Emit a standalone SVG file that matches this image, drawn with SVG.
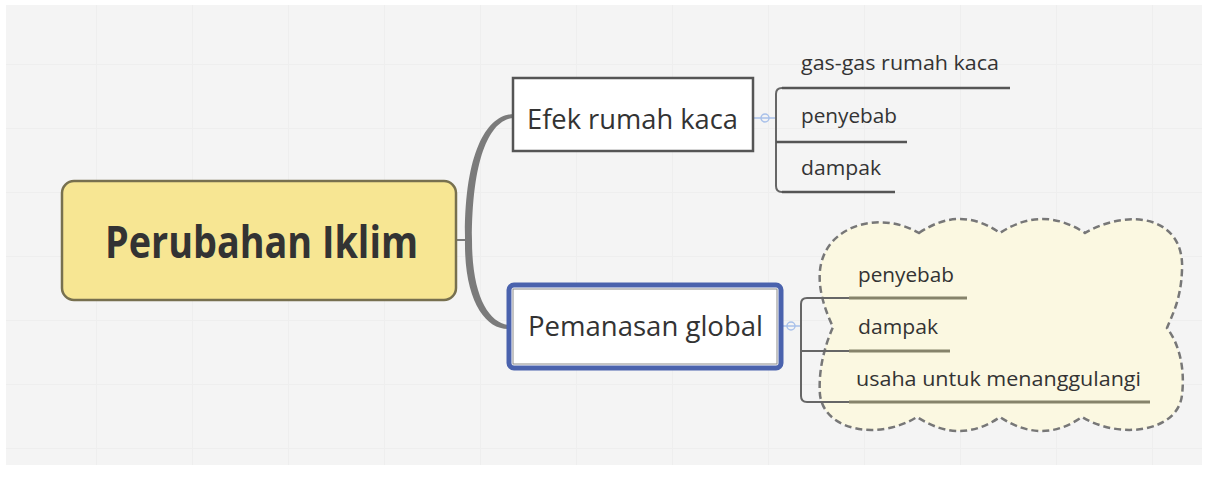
<svg xmlns="http://www.w3.org/2000/svg" width="1206" height="490" viewBox="0 0 1206 490">
<defs>
<pattern id="grid" width="96" height="64" patternUnits="userSpaceOnUse">
<rect width="96" height="64" fill="#f4f4f4"/>
<path d="M0 0.5 H96 M0.5 0 V64" stroke="#eeeeee" stroke-width="1" fill="none"/>
</pattern>
<style>
.t{font-family:"Open Sans","Noto Sans",sans-serif;fill:#333;}
.sub{font-size:19.5px;}
.br{fill:none;stroke:#666;stroke-width:2;}
.ul{fill:none;stroke:#555;stroke-width:2.5;}
.ulc{fill:none;stroke:#86836b;stroke-width:3;}
.knob{fill:none;stroke:#a9c1ea;stroke-width:1.5;}
</style>
</defs>
<rect width="1206" height="490" fill="#ffffff"/>
<rect x="6" y="5" width="1196" height="460" fill="url(#grid)"/>

<g id="connectors">
<path d="M456 240 H470" stroke="#7b7b7b" stroke-width="2" fill="none"/>
<path d="M465 240 C464 150 488 114 514 114 L514 118 C491 119 472 155 472 240 Z" fill="#7b7b7b"/>
<path d="M465 240 C464 300 485 329 508 329 L508 325 C488 322 472 295 472 240 Z" fill="#7b7b7b"/>
<path class="knob" d="M753 118 H776"/>
<circle class="knob" cx="765" cy="118" r="4"/>
<path class="knob" d="M783 326 H801"/>
<circle class="knob" cx="791" cy="326" r="4"/>
</g>

<g id="node-central">
<rect x="62" y="181" width="394" height="119" rx="12" fill="#f7e693" stroke="#77704f" stroke-width="2.5"/>
<text class="t" x="105" y="258" font-size="44" font-weight="bold" fill="#3a3a2a" textLength="313" lengthAdjust="spacingAndGlyphs">Perubahan Iklim</text>
</g>

<g id="node-efek">
<rect x="513" y="78" width="240" height="73" fill="#ffffff" stroke="#555" stroke-width="2.5"/>
<text class="t" x="527" y="129" font-size="27" textLength="211" lengthAdjust="spacingAndGlyphs">Efek rumah kaca</text>
</g>

<g id="efek-children">
<path class="br" d="M1010 88 H782 Q776 88 776 94 V186 Q776 192 782 192 H895"/>
<path class="br" d="M776 142 H907"/>
<path class="ul" d="M782 88 H1010 M776 142 H907 M782 192 H895"/>
<text class="t sub" x="801" y="70" textLength="198" lengthAdjust="spacingAndGlyphs">gas-gas rumah kaca</text>
<text class="t sub" x="801" y="123" textLength="96" lengthAdjust="spacingAndGlyphs">penyebab</text>
<text class="t sub" x="801" y="175" textLength="80" lengthAdjust="spacingAndGlyphs">dampak</text>
</g>

<g id="node-pemanasan">
<rect x="509" y="285" width="272" height="83" rx="5" fill="#ffffff" stroke="#4a62ad" stroke-width="5"/>
<rect x="513" y="289" width="264" height="75" fill="none" stroke="#8a8a8a" stroke-width="1"/>
<text class="t" x="528" y="336" font-size="28" textLength="235" lengthAdjust="spacingAndGlyphs">Pemanasan global</text>
</g>

<g id="cloud">
<path d="M919 233 Q960 205 1000 233 Q1042 205 1085 233 C1130 207 1185 217 1182 270 C1181 300 1172 315 1167 328 C1180 345 1185 370 1182 395 C1178 432 1120 440 1082 417 Q1042 445 1000 417 Q960 445 917 417 C880 440 825 432 820 395 C818 370 825 345 833 327 C825 310 818 290 820 270 C825 225 880 210 919 233 Z" fill="#fbf8e1" stroke="#777" stroke-width="2.5" stroke-dasharray="7 4"/>
</g>

<g id="pemanasan-children">
<path class="br" d="M849 298 H807 Q801 298 801 304 V396 Q801 402 807 402 H849"/>
<path class="br" d="M801 351 H849"/>
<path class="ulc" d="M849 298 H967 M849 351 H950 M849 402 H1150"/>
<text class="t sub" x="858" y="282" textLength="96" lengthAdjust="spacingAndGlyphs">penyebab</text>
<text class="t sub" x="858" y="334" textLength="80" lengthAdjust="spacingAndGlyphs">dampak</text>
<text class="t sub" x="856" y="386" textLength="285" lengthAdjust="spacingAndGlyphs">usaha untuk menanggulangi</text>
</g>
</svg>
